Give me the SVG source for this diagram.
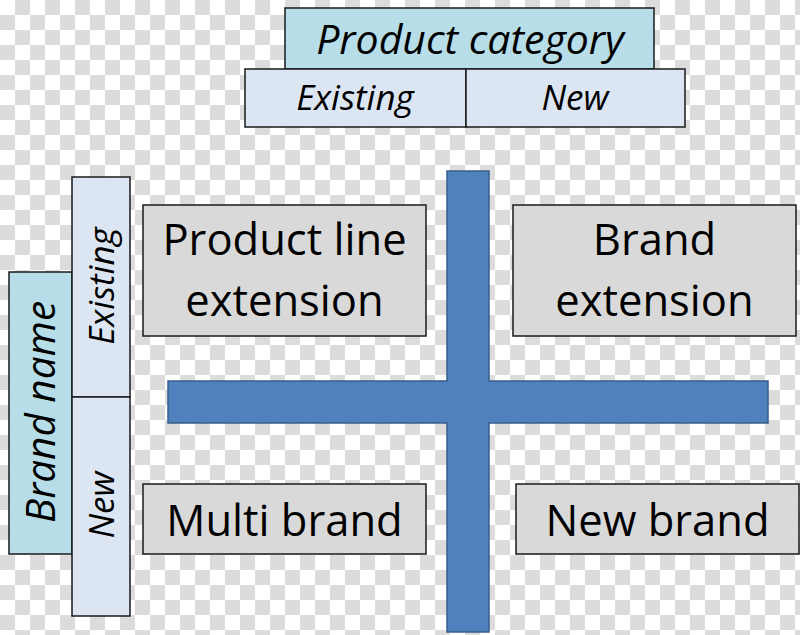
<svg xmlns="http://www.w3.org/2000/svg" width="800" height="635" viewBox="0 0 800 635">
  <defs>
    <pattern id="checker" x="0" y="0" width="30" height="30" patternUnits="userSpaceOnUse">
      <rect x="0" y="0" width="30" height="30" fill="#ffffff"/>
      <rect x="15" y="0" width="15" height="15" fill="#dcdcdc"/>
      <rect x="0" y="15" width="15" height="15" fill="#dcdcdc"/>
    </pattern>
    <style>
      .hdr { fill: #b7dde8; stroke: #1a1a1a; stroke-width: 1.5; }
      .sub { fill: #dce6f2; stroke: #1a1a1a; stroke-width: 1.5; }
      .cell { fill: #d9d9d9; stroke: #1a1a1a; stroke-width: 1.5; }
      .it { font-family: "Open Sans", "Liberation Sans", sans-serif; font-style: italic; fill: #000; text-anchor: middle; }
      .big { font-family: "Open Sans", "Liberation Sans", sans-serif; font-size: 43.5px; fill: #000; text-anchor: middle; }
      .cross { fill: #4f81bd; stroke: #385d8a; stroke-width: 1.5; }
    </style>
  </defs>
  <rect x="0" y="0" width="800" height="635" fill="url(#checker)"/>

  <g id="product-category">
    <rect class="hdr" x="285" y="8" width="369" height="61"/>
    <text class="it" x="470" y="54" font-size="41">Product category</text>
  </g>
  <g id="pc-existing">
    <rect class="sub" x="245" y="69" width="221" height="58"/>
    <text class="it" x="355" y="110" font-size="35">Existing</text>
  </g>
  <g id="pc-new">
    <rect class="sub" x="466" y="69" width="219" height="58"/>
    <text class="it" x="575" y="110" font-size="35">New</text>
  </g>

  <g id="brand-name">
    <rect class="hdr" x="9" y="272" width="63" height="282"/>
    <text class="it" transform="translate(55,412) rotate(-90)" x="0" y="0" font-size="40.5">Brand name</text>
  </g>
  <g id="bn-existing">
    <rect class="sub" x="72" y="177" width="58" height="220"/>
    <text class="it" transform="translate(114,286) rotate(-90)" x="0" y="0" font-size="35">Existing</text>
  </g>
  <g id="bn-new">
    <rect class="sub" x="72" y="397" width="58" height="219"/>
    <text class="it" transform="translate(114,505) rotate(-90)" x="0" y="0" font-size="35">New</text>
  </g>

  <g id="connectors">
    <path id="quadrant-cross" class="cross" d="M447,171 H489 V381 H768 V423 H489 V632 H447 V423 H168 V381 H447 Z"/>
  </g>

  <g id="product-line-extension">
    <rect class="cell" x="143" y="205" width="283" height="131"/>
    <text class="big" x="284.5" y="255">Product line</text>
    <text class="big" x="284.5" y="316">extension</text>
  </g>
  <g id="brand-extension">
    <rect class="cell" x="513" y="205" width="283" height="131"/>
    <text class="big" x="654.5" y="255">Brand</text>
    <text class="big" x="654.5" y="316">extension</text>
  </g>
  <g id="multi-brand">
    <rect class="cell" x="143" y="484" width="283" height="70"/>
    <text class="big" x="284.5" y="536">Multi brand</text>
  </g>
  <g id="new-brand">
    <rect class="cell" x="516" y="484" width="283" height="70"/>
    <text class="big" x="657.5" y="536">New brand</text>
  </g>
</svg>
